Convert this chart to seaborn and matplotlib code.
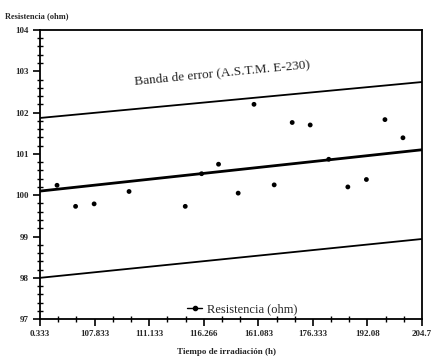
import matplotlib
matplotlib.use('Agg')
import matplotlib.pyplot as plt
import seaborn as sns
import pandas as pd
from matplotlib.lines import Line2D
from matplotlib.ticker import MultipleLocator

# tick labels of the x axis (hours), placed at positions 0..7
x_labels = ['0.333', '107.833', '111.133', '116.266', '161.083', '176.333', '192.08', '204.7']

# measured points (x in tick units, resistance in ohm)
pos = [0.31, 0.65, 0.99, 1.63, 2.66, 2.96, 3.27, 3.63, 3.92, 4.29, 4.62, 4.95, 5.29, 5.64, 5.98, 6.32, 6.65]
resist = [100.24, 99.73, 99.79, 100.09, 99.73, 100.52, 100.75, 100.05, 102.2, 100.25,
          101.76, 101.7, 100.87, 100.2, 100.38, 101.83, 101.39]

# fitted line and error band (A.S.T.M. E-230), values at both ends
line_x = [0, 7]
fit = [100.1, 101.1]
upper = [101.87, 102.74]
lower = [98.0, 98.94]

sns.set_style('white')
plt.rcParams['font.family'] = ['Liberation Serif', 'DejaVu Serif']

df = pd.DataFrame({'pos': pos, 'resist': resist})

fig = plt.figure(figsize=(4.36, 3.61), dpi=100)
ax = fig.add_axes([0.092, 0.116, 0.876, 0.801])

sns.lineplot(x=line_x, y=fit, color='black', lw=2.0, ax=ax)
sns.lineplot(x=line_x, y=upper, color='black', lw=1.3, ax=ax)
sns.lineplot(x=line_x, y=lower, color='black', lw=1.3, ax=ax)
sns.scatterplot(data=df, x='pos', y='resist', color='black', s=12, ax=ax, edgecolor='none')

ax.set_xlim(0, 7)
ax.set_ylim(97, 104)
ax.set_xticks(range(len(x_labels)))
ax.set_xticklabels(x_labels)
ax.xaxis.set_minor_locator(MultipleLocator(1 / 3))
ax.yaxis.set_major_locator(MultipleLocator(1))
ax.yaxis.set_minor_locator(MultipleLocator(0.2))
ax.tick_params(axis='both', which='major', direction='out', length=5, width=1.2,
               labelsize=6.5, color='black', pad=3, bottom=True, left=True)
ax.tick_params(axis='both', which='minor', direction='inout', length=4, width=1,
               color='black', bottom=True, left=True)
for lab in ax.get_xticklabels() + ax.get_yticklabels():
    lab.set_fontweight('bold')
for s in ax.spines.values():
    s.set_color('black')
    s.set_linewidth(1.3)
ax.set_xlabel('')
ax.set_ylabel('')

ax.text(1.72, 102.62, 'Banda de error (A.S.T.M. E-230)', fontsize=9.5, rotation=5.5,
        ha='left', va='bottom')

handle = Line2D([], [], color='black', lw=1, marker='o', markersize=3)
ax.legend([handle], ['Resistencia (ohm)'], loc='lower center', bbox_to_anchor=(0.53, -0.025),
          frameon=False, fontsize=9, handlelength=1.2, handletextpad=0.4)

fig.text(0.012, 0.955, 'Resistencia (ohm)', fontsize=6, fontweight='bold', ha='left', va='center')
fig.text(0.52, 0.025, 'Tiempo de irradiación (h)', fontsize=6.5, fontweight='bold', ha='center', va='center')

fig.savefig('out.png', dpi=100)
